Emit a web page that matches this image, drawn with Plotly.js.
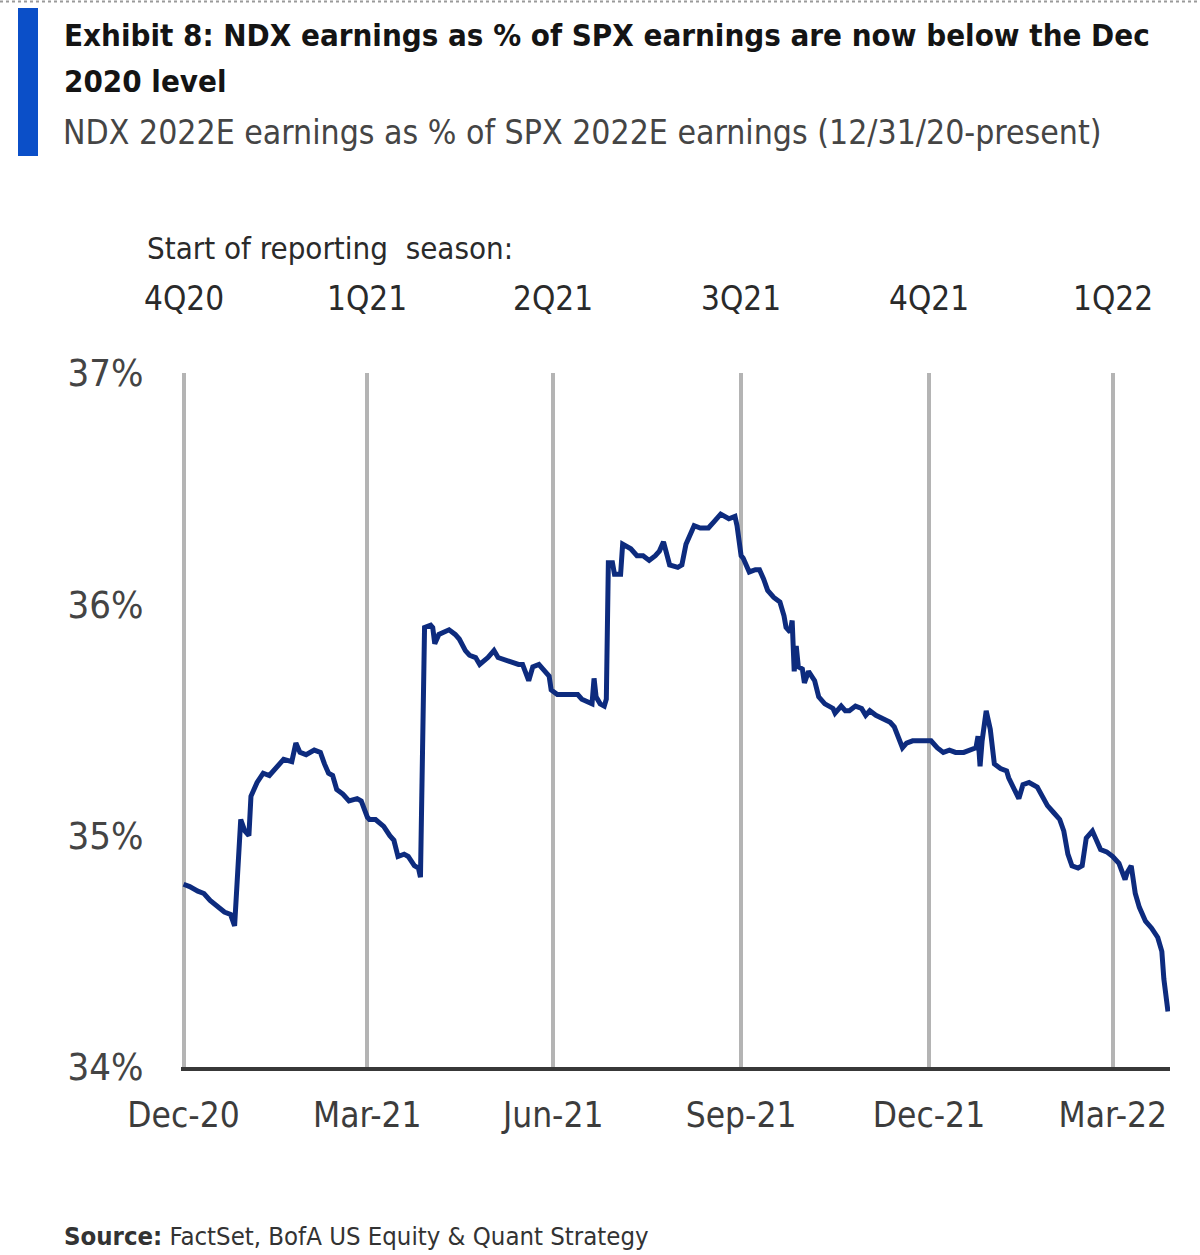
<!DOCTYPE html>
<html>
<head>
<meta charset="utf-8">
<script src="https://cdn.plot.ly/plotly-3.0.1.min.js"></script>
<style>
  html, body { margin: 0; padding: 0; background: #ffffff; }
  #chart { width: 1200px; height: 1255px; }
</style>
</head>
<body>
<div id="chart"></div>
<script>
// ---- Data (NDX 2022E earnings as % of SPX 2022E earnings) ----
const dates = [
  '2020-12-31','2021-01-03','2021-01-07','2021-01-10','2021-01-13','2021-01-17','2021-01-20','2021-01-23','2021-01-25','2021-01-28',
  '2021-01-30','2021-02-01','2021-02-02','2021-02-05','2021-02-08','2021-02-11','2021-02-15','2021-02-18','2021-02-22','2021-02-24',
  '2021-02-26','2021-03-01','2021-03-05','2021-03-08','2021-03-10','2021-03-12','2021-03-14','2021-03-16','2021-03-19','2021-03-22',
  '2021-03-26','2021-03-28','2021-03-31','2021-04-01','2021-04-04','2021-04-08','2021-04-11','2021-04-13','2021-04-15','2021-04-18',
  '2021-04-20','2021-04-23','2021-04-25','2021-04-26','2021-04-28','2021-05-01','2021-05-02','2021-05-03','2021-05-05','2021-05-07',
  '2021-05-10','2021-05-13','2021-05-15','2021-05-18','2021-05-20','2021-05-23','2021-05-25','2021-05-29','2021-06-01','2021-06-03',
  '2021-06-06','2021-06-09','2021-06-13','2021-06-15','2021-06-18','2021-06-20','2021-06-23','2021-06-25','2021-06-28','2021-06-29',
  '2021-07-02','2021-07-05','2021-07-08','2021-07-12','2021-07-14','2021-07-17','2021-07-19','2021-07-20','2021-07-21','2021-07-23',
  '2021-07-25','2021-07-26','2021-07-27','2021-07-29','2021-07-30','2021-08-02','2021-08-03','2021-08-07','2021-08-10','2021-08-13',
  '2021-08-16','2021-08-19','2021-08-21','2021-08-23','2021-08-25','2021-08-26','2021-08-30','2021-09-01','2021-09-03','2021-09-07',
  '2021-09-10','2021-09-14','2021-09-17','2021-09-20','2021-09-24','2021-09-27','2021-09-28','2021-09-30','2021-10-01','2021-10-04',
  '2021-10-07','2021-10-09','2021-10-11','2021-10-13','2021-10-16','2021-10-19','2021-10-21','2021-10-22','2021-10-24','2021-10-25',
  '2021-10-26','2021-10-27','2021-10-28','2021-10-30','2021-10-31','2021-11-02','2021-11-05','2021-11-07','2021-11-10','2021-11-14',
  '2021-11-15','2021-11-18','2021-11-20','2021-11-22','2021-11-25','2021-11-28','2021-11-30','2021-12-02','2021-12-05','2021-12-09',
  '2021-12-12','2021-12-14','2021-12-16','2021-12-18','2021-12-20','2021-12-23','2021-12-27','2021-12-30','2022-01-01','2022-01-04',
  '2022-01-07','2022-01-10','2022-01-13','2022-01-17','2022-01-20','2022-01-23','2022-01-24','2022-01-25','2022-01-26','2022-01-27',
  '2022-01-28','2022-01-30','2022-02-01','2022-02-04','2022-02-07','2022-02-08','2022-02-10','2022-02-13','2022-02-15','2022-02-18',
  '2022-02-22','2022-02-24','2022-02-27','2022-03-02','2022-03-05','2022-03-07','2022-03-09','2022-03-11','2022-03-14','2022-03-16',
  '2022-03-18','2022-03-21','2022-03-23','2022-03-25','2022-03-28','2022-03-31','2022-04-03','2022-04-06','2022-04-07','2022-04-09',
  '2022-04-11','2022-04-13','2022-04-16','2022-04-19','2022-04-22','2022-04-24','2022-04-25','2022-04-27'
];
const ndxPctOfSpx = [
  34.79,34.78,34.76,34.75,34.72,34.69,34.67,34.66,34.61,35.07,
  35.02,35.00,35.17,35.23,35.27,35.26,35.30,35.33,35.32,35.40,
  35.36,35.35,35.37,35.36,35.31,35.27,35.26,35.20,35.18,35.15,
  35.16,35.15,35.08,35.07,35.07,35.04,35.00,34.98,34.91,34.92,
  34.91,34.87,34.86,34.82,35.90,35.91,35.90,35.83,35.87,35.88,
  35.89,35.87,35.85,35.80,35.78,35.77,35.74,35.77,35.80,35.77,
  35.76,35.75,35.74,35.74,35.67,35.73,35.74,35.72,35.69,35.63,
  35.61,35.61,35.61,35.61,35.59,35.58,35.57,35.68,35.60,35.57,
  35.56,35.59,36.18,36.18,36.13,36.13,36.26,36.24,36.21,36.21,
  36.19,36.21,36.23,36.27,36.21,36.17,36.16,36.17,36.26,36.34,
  36.33,36.33,36.36,36.39,36.37,36.38,36.34,36.21,36.20,36.14,
  36.15,36.15,36.11,36.06,36.03,36.01,35.95,35.90,35.88,35.93,
  35.71,35.82,35.73,35.72,35.66,35.71,35.67,35.60,35.57,35.55,
  35.53,35.56,35.54,35.54,35.56,35.55,35.52,35.54,35.52,35.50,
  35.49,35.47,35.43,35.38,35.40,35.41,35.41,35.41,35.41,35.38,
  35.36,35.37,35.36,35.36,35.37,35.38,35.43,35.30,35.41,35.47,
  35.54,35.46,35.31,35.29,35.28,35.25,35.21,35.16,35.22,35.23,
  35.21,35.18,35.13,35.10,35.07,35.02,34.92,34.87,34.86,34.87,
  34.99,35.02,34.98,34.94,34.93,34.91,34.88,34.81,34.84,34.87,
  34.75,34.69,34.63,34.60,34.56,34.50,34.38,34.24
];
const xTickDates = ['2020-12-31','2021-03-31','2021-06-30','2021-09-30','2021-12-31','2022-03-31'];
const xTickLabels = ['Dec-20','Mar-21','Jun-21','Sep-21','Dec-21','Mar-22'];
const seasonLabels = ['4Q20','1Q21','2Q21','3Q21','4Q21','1Q22'];
const yTicks = [34, 35, 36, 37];
const yTickLabels = ['34%', '35%', '36%', '37%'];

const titleLine1 = 'Exhibit 8: NDX earnings as % of SPX earnings are now below the Dec';
const titleLine2 = '2020 level';
const subtitleText = 'NDX 2022E earnings as % of SPX 2022E earnings (12/31/20-present)';
const seasonHeader = 'Start of reporting  season:';
const sourceText = '<b>Source:</b> FactSet, BofA US Equity &amp; Quant Strategy';

// ---- Layout geometry ----
const W = 1200, Hh = 1255;
const M = { l: 181, r: 30, t: 373, b: 188 };
const PW = W - M.l - M.r, PH = Hh - M.t - M.b;
const px2x = p => (p - M.l) / PW;
const py2y = p => (Hh - M.b - p) / PH;

const FONT = '"Liberation Sans Narrow", "Arial Narrow", "DejaVu Sans Condensed", sans-serif';

const annotations = [];
function addText(text, px, py, size, color, anchor) {
  annotations.push({
    text: text, xref: 'paper', yref: 'paper', x: px2x(px), y: py2y(py),
    xanchor: anchor || 'left', yanchor: 'middle', showarrow: false,
    font: { family: FONT, size: size, color: color }
  });
}
addText('<b>' + titleLine1 + '</b>', 62, 35, 31, '#141414');
addText('<b>' + titleLine2 + '</b>', 62, 81, 31, '#141414');
addText(subtitleText, 61, 133, 33.5, '#454545');
addText(seasonHeader, 145, 248, 31, '#2a2a2a');
seasonLabels.forEach((lab, i) => {
  annotations.push({
    text: lab, xref: 'x', yref: 'paper', x: xTickDates[i], y: py2y(298),
    xanchor: 'center', yanchor: 'middle', showarrow: false,
    font: { family: FONT, size: 33, color: '#2a2a2a' }
  });
});
addText(sourceText, 62, 1236, 25.5, '#333333');

const shapes = [
  { type: 'rect', xref: 'paper', yref: 'paper', x0: px2x(18), x1: px2x(38), y0: py2y(156), y1: py2y(8),
    fillcolor: '#0b4fc8', line: { width: 0 } },
  { type: 'line', xref: 'paper', yref: 'paper', x0: px2x(0), x1: px2x(1200), y0: py2y(1.5), y1: py2y(1.5),
    line: { color: '#9a9a9a', width: 2, dash: 'dot' } }
];

const trace = {
  x: dates, y: ndxPctOfSpx, type: 'scatter', mode: 'lines',
  line: { color: '#0d2b7e', width: 5 },
  hoverinfo: 'x+y'
};

const layout = {
  width: W, height: Hh,
  margin: M,
  paper_bgcolor: '#ffffff', plot_bgcolor: '#ffffff',
  showlegend: false,
  xaxis: {
    type: 'date',
    range: ['2020-12-29 18:00', '2022-04-28'],
    tickvals: xTickDates, ticktext: xTickLabels,
    showgrid: true, gridcolor: '#b4b4b4', gridwidth: 4,
    showline: true, linecolor: '#383838', linewidth: 4,
    ticks: 'outside', ticklen: 14, tickcolor: 'rgba(0,0,0,0)',
    zeroline: false,
    tickfont: { family: FONT, size: 35, color: '#3c3c3c' }
  },
  yaxis: {
    range: [34, 37],
    tickvals: yTicks, ticktext: yTickLabels,
    showgrid: false, zeroline: false, showline: false,
    ticks: 'outside', ticklen: 29, tickcolor: 'rgba(0,0,0,0)',
    tickfont: { family: FONT, size: 38, color: '#444444' }
  },
  annotations: annotations,
  shapes: shapes
};

Plotly.newPlot('chart', [trace], layout, { displayModeBar: false, staticPlot: true });
</script>
</body>
</html>
